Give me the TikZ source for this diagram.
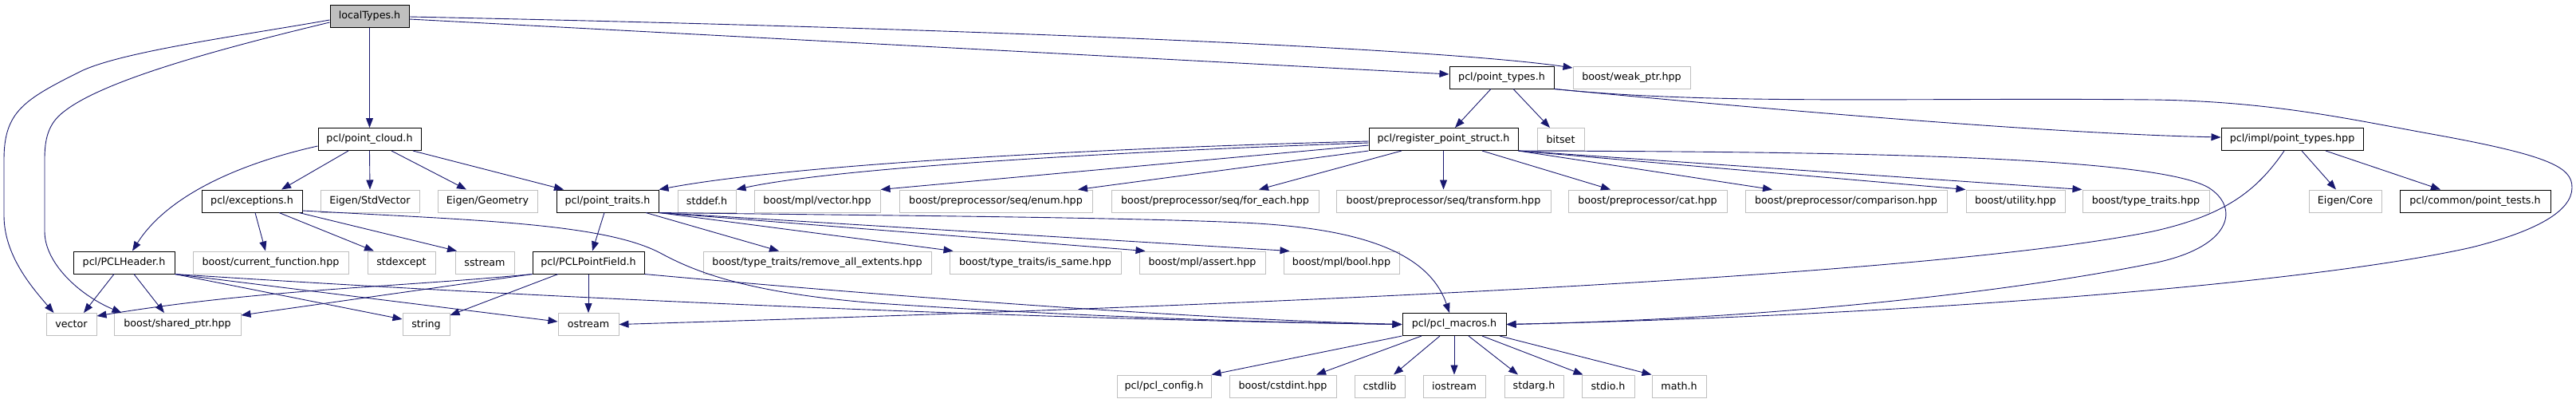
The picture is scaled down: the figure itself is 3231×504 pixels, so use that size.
\documentclass[tikz,border=0pt]{standalone}
\usepackage{fontspec}
\setmainfont{DejaVu Sans}
\usetikzlibrary{arrows.meta}
\definecolor{edgeblue}{HTML}{191970}
\definecolor{grey75}{HTML}{BFBFBF}

\begin{document}
\begin{tikzpicture}[x=1pt,y=-1pt,
    hfile/.style={draw=black,line width=1pt,inner sep=0pt,minimum height=28pt,
      font=\fontsize{12.7}{15}\selectfont},
    sfile/.style={hfile,draw=grey75},
    inc/.style={edgeblue,line width=0.9pt,-{Triangle[length=12pt,width=9pt]}}]
  \useasboundingbox (0,0) rectangle (3231,504);
  \fill[white] (0,0) rectangle (3231,504);

  \node[hfile,fill=grey75,minimum width=99pt] (lt) at (463.5,20) {localTypes.h};

  \node[hfile,minimum width=131pt] (ptypes) at (1883.5,97) {pcl/point\_types.h};
  \node[sfile,minimum width=147pt] (weakptr) at (2046.5,97) {boost/weak\_ptr.hpp};

  \node[hfile,minimum width=129pt] (cloud) at (463.5,174.5) {pcl/point\_cloud.h};
  \node[hfile,minimum width=187pt] (regstruct) at (1810.5,174.5) {pcl/register\_point\_struct.h};
  \node[sfile,minimum width=59pt] (bitset) at (1957.5,174.5) {bitset};
  \node[hfile,minimum width=178pt] (implpt) at (2875,174.5) {pcl/impl/point\_types.hpp};

  \node[hfile,minimum width=126pt] (except) at (316,252) {pcl/exceptions.h};
  \node[sfile,minimum width=124pt] (stdvec) at (464,252) {Eigen/StdVector};
  \node[sfile,minimum width=125pt] (geom) at (611.5,252) {Eigen/Geometry};
  \node[hfile,minimum width=128pt] (traits) at (762,252) {pcl/point\_traits.h};
  \node[sfile,minimum width=73pt] (stddef) at (886.5,252) {stddef.h};
  \node[sfile,minimum width=158pt] (mplvec) at (1025,252) {boost/mpl/vector.hpp};
  \node[sfile,minimum width=242pt] (seqenum) at (1249,252) {boost/preprocessor/seq/enum.hpp};
  \node[sfile,minimum width=260pt] (seqeach) at (1524,252) {boost/preprocessor/seq/for\_each.hpp};
  \node[sfile,minimum width=269pt] (seqtrans) at (1810.5,252) {boost/preprocessor/seq/transform.hpp};
  \node[sfile,minimum width=199pt] (ppcat) at (2066.5,252) {boost/preprocessor/cat.hpp};
  \node[sfile,minimum width=253pt] (ppcomp) at (2315.5,252) {boost/preprocessor/comparison.hpp};
  \node[sfile,minimum width=124pt] (utility) at (2528,252) {boost/utility.hpp};
  \node[sfile,minimum width=159pt] (typetraits) at (2691.5,252) {boost/type\_traits.hpp};
  \node[sfile,minimum width=91pt] (eigencore) at (2941.5,252) {Eigen/Core};
  \node[hfile,minimum width=189pt] (ptests) at (3104.5,252) {pcl/common/point\_tests.h};

  \node[hfile,minimum width=127pt] (header) at (155.5,329) {pcl/PCLHeader.h};
  \node[sfile,minimum width=195pt] (curfunc) at (339.5,329) {boost/current\_function.hpp};
  \node[sfile,minimum width=85pt] (stdexcept) at (503.5,329) {stdexcept};
  \node[sfile,minimum width=74pt] (sstream) at (608,329) {sstream};
  \node[hfile,minimum width=140pt] (pfield) at (738,329) {pcl/PCLPointField.h};
  \node[sfile,minimum width=286pt] (rmext) at (1025,329) {boost/type\_traits/remove\_all\_extents.hpp};
  \node[sfile,minimum width=215pt] (issame) at (1298.5,329) {boost/type\_traits/is\_same.hpp};
  \node[sfile,minimum width=158pt] (mplassert) at (1508,329) {boost/mpl/assert.hpp};
  \node[sfile,minimum width=145pt] (mplbool) at (1682.5,329) {boost/mpl/bool.hpp};

  \node[sfile,minimum width=63pt] (vector) at (89.5,406.5) {vector};
  \node[sfile,minimum width=159pt] (sharedptr) at (222.5,406.5) {boost/shared\_ptr.hpp};
  \node[sfile,minimum width=59pt] (string) at (534.5,406.5) {string};
  \node[sfile,minimum width=76pt] (ostream) at (738,406.5) {ostream};
  \node[hfile,minimum width=130pt] (macros) at (1824,406.5) {pcl/pcl\_macros.h};

  \node[sfile,minimum width=118pt] (config) at (1460,484) {pcl/pcl\_config.h};
  \node[sfile,minimum width=134pt] (cstdint) at (1609,484) {boost/cstdint.hpp};
  \node[sfile,minimum width=63pt] (cstdlib) at (1730.5,484) {cstdlib};
  \node[sfile,minimum width=78pt] (iostream) at (1824,484) {iostream};
  \node[sfile,minimum width=74pt] (stdarg) at (1924,484) {stdarg.h};
  \node[sfile,minimum width=66pt] (stdio) at (2017,484) {stdio.h};
  \node[sfile,minimum width=68pt] (math) at (2106,484) {math.h};

  \draw[inc] (lt.south) -- (cloud.north);
  \draw[inc] ([yshift=-5pt]lt.west) .. controls (300,45) and (150,65) .. (100,90)
    .. controls (30,125) and (5,140) .. (5,200) -- (5,270)
    .. controls (5,320) and (40,360) .. ([xshift=-22pt]vector.north);
  \draw[inc] ([yshift=-8pt]lt.west) .. controls (280,60) and (130,100) .. (80,140)
    .. controls (60,155) and (56,175) .. (56,200) -- (56,290)
    .. controls (56,330) and (100,370) .. ([xshift=-70pt]sharedptr.north);
  \draw[inc] ([yshift=-1pt]lt.east) .. controls (1200,35) and (1800,60) .. ([yshift=12pt]weakptr.west);
  \draw[inc] ([yshift=-4pt]lt.east) -- ([yshift=4pt]ptypes.west);

  \draw[inc] ([yshift=-8.5pt]cloud.west) .. controls (300,205) and (210,245) .. ([xshift=10.5pt]header.north);
  \draw[inc] ([xshift=-26.5pt]cloud.south) -- ([xshift=37pt]except.north);
  \draw[inc] (cloud.south) -- (stdvec.north);
  \draw[inc] ([xshift=27.5pt]cloud.south) -- ([xshift=-26.5pt]geom.north);
  \draw[inc] ([xshift=54.5pt]cloud.south) -- ([xshift=-55pt]traits.north);

  \draw[inc] ([xshift=4pt]except.south) -- ([xshift=-6.5pt]curfunc.north);
  \draw[inc] ([xshift=34pt]except.south) -- ([xshift=-34.5pt]stdexcept.north);
  \draw[inc] ([xshift=59pt]except.south) -- ([xshift=-35pt]sstream.north);
  \draw[inc] ([yshift=-12pt]except.east) .. controls (600,276) and (760,280) .. (830,318)
    .. controls (880,345) and (950,368) .. (1100,380)
    .. controls (1400,400) and (1650,405) .. (macros.west);

  \draw[inc] ([xshift=-12.5pt]header.south) -- ([xshift=15.5pt]vector.north);
  \draw[inc] ([xshift=12.5pt]header.south) -- ([xshift=-16.5pt]sharedptr.north);
  \draw[inc] (header.south east) -- ([yshift=6.5pt]string.west);
  \draw[inc] (header.south east) -- ([yshift=3.5pt]ostream.west);
  \draw[inc] (header.south east) .. controls (700,375) and (1300,400) .. (macros.west);

  \draw[inc] (pfield.south west) .. controls (500,360) and (330,362) .. ([yshift=10.5pt]vector.east);
  \draw[inc] (pfield.south west) -- ([yshift=11.5pt]sharedptr.east);
  \draw[inc] ([xshift=-38pt]pfield.south) -- ([yshift=11.5pt]string.east);
  \draw[inc] (pfield.south) -- (ostream.north);
  \draw[inc] (pfield.south east) .. controls (1100,370) and (1500,400) .. (macros.west);

  \draw[inc] ([xshift=-4pt]traits.south) -- ([xshift=5pt]pfield.north);
  \draw[inc] ([xshift=48pt]traits.south) -- ([xshift=-48pt]rmext.north);
  \draw[inc] (traits.south east) -- ([xshift=5pt]issame.north west);
  \draw[inc] (traits.south east) -- ([xshift=8pt]mplassert.north west);
  \draw[inc] (traits.south east) -- ([xshift=8pt]mplbool.north west);
  \draw[inc] (traits.south east) .. controls (1100,270) and (1400,272) .. (1558,279)
    .. controls (1690,285) and (1790,310) .. ([xshift=-6pt]macros.north);

  \draw[inc] ([yshift=-2.5pt]regstruct.west) .. controls (1400,185) and (1000,205) .. (traits.north east);
  \draw[inc] ([yshift=-4.5pt]regstruct.west) .. controls (1400,190) and (1050,210) .. (stddef.north east);
  \draw[inc] ([yshift=-7.5pt]regstruct.west) -- (mplvec.north east);
  \draw[inc] (regstruct.south west) -- ([xshift=103pt]seqenum.north);
  \draw[inc] ([xshift=-52.5pt]regstruct.south) -- ([xshift=55pt]seqeach.north);
  \draw[inc] (regstruct.south) -- (seqtrans.north);
  \draw[inc] ([xshift=48.5pt]regstruct.south) -- ([xshift=-46.5pt]ppcat.north);
  \draw[inc] (regstruct.south east) -- ([xshift=-92.5pt]ppcomp.north);
  \draw[inc] (regstruct.south east) -- (utility.north west);
  \draw[inc] (regstruct.south east) -- (typetraits.north west);
  \draw[inc] (regstruct.south east) .. controls (2300,190) and (2700,195) .. (2770,235)
    .. controls (2810,260) and (2800,310) .. (2700,330)
    .. controls (2500,370) and (2200,400) .. (macros.east);

  \draw[inc] ([xshift=-13.5pt]ptypes.south) -- ([xshift=14.5pt]regstruct.north);
  \draw[inc] ([xshift=14.5pt]ptypes.south) -- ([xshift=-13.5pt]bitset.north);
  \draw[inc] (ptypes.south east) .. controls (2300,145) and (2600,168) .. ([yshift=2.5pt]implpt.west);
  \draw[inc] (ptypes.south east) .. controls (2150,132) and (2400,122) .. (2700,125)
    .. controls (2850,127) and (2950,150) .. (3050,168)
    .. controls (3200,195) and (3226,210) .. (3226,235)
    .. controls (3226,265) and (3180,290) .. (3100,310)
    .. controls (2900,355) and (2400,395) .. (macros.east);

  \draw[inc] ([xshift=-10pt]implpt.south) .. controls (2830,240) and (2790,270) .. (2700,290)
    .. controls (2400,350) and (1500,385) .. (ostream.east);
  \draw[inc] ([xshift=12pt]implpt.south) -- ([xshift=-11.5pt]eigencore.north);
  \draw[inc] ([xshift=42pt]implpt.south) -- ([xshift=-43.5pt]ptests.north);

  \draw[inc] (macros.south west) -- (config.north east);
  \draw[inc] ([xshift=-41pt]macros.south) -- ([xshift=42pt]cstdint.north);
  \draw[inc] ([xshift=-18pt]macros.south) -- ([xshift=17.5pt]cstdlib.north);
  \draw[inc] (macros.south) -- (iostream.north);
  \draw[inc] ([xshift=18pt]macros.south) -- ([xshift=-20pt]stdarg.north);
  \draw[inc] ([xshift=35pt]macros.south) -- ([xshift=2pt]stdio.north west);
  \draw[inc] ([xshift=57pt]macros.south) -- (math.north west);
\end{tikzpicture}
\end{document}
